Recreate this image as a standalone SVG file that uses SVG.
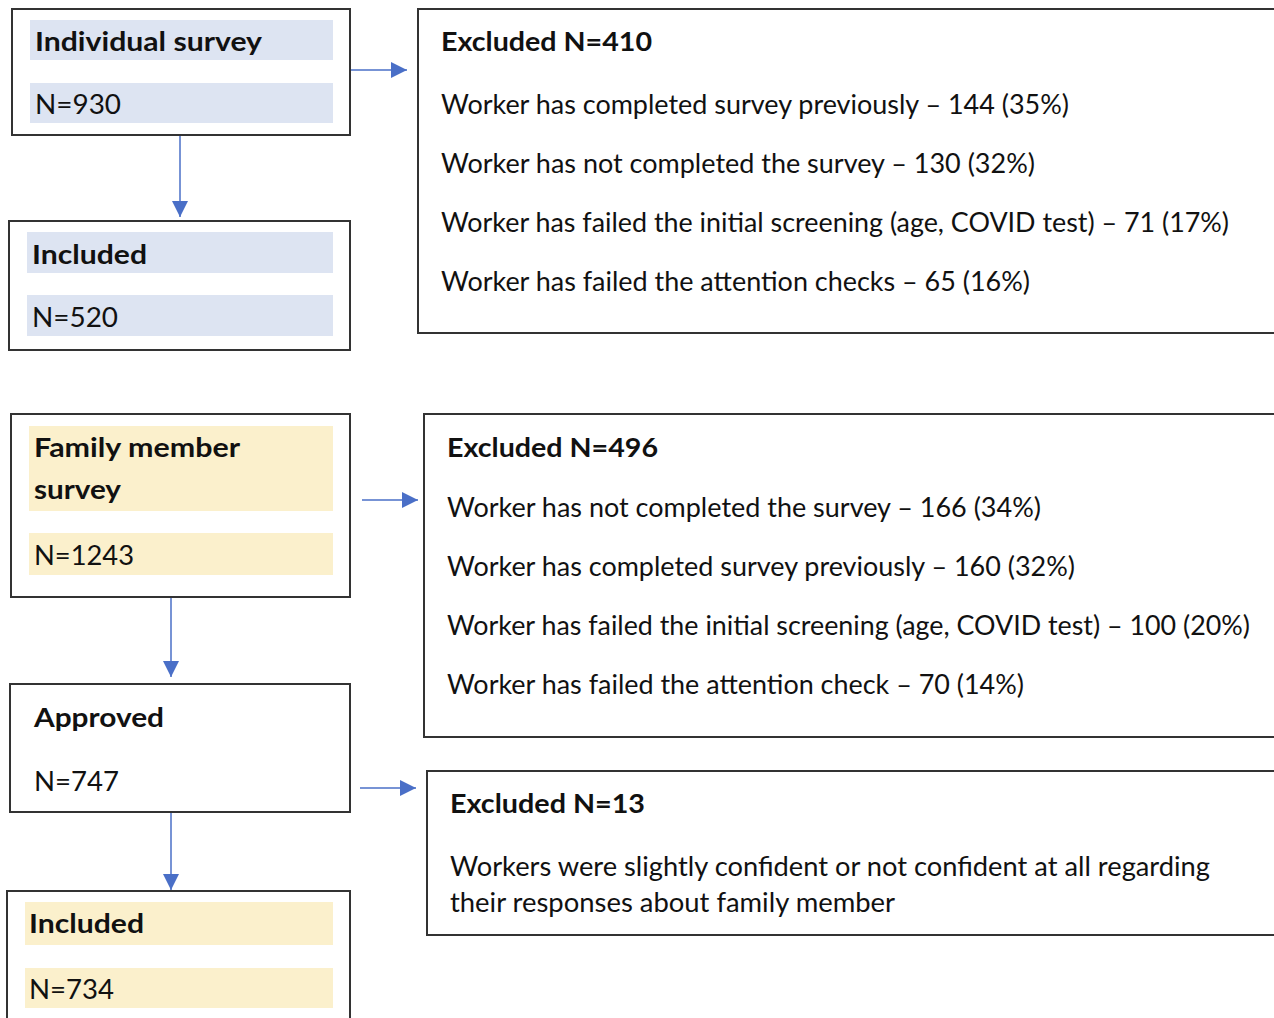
<svg xmlns="http://www.w3.org/2000/svg" width="1274" height="1018" viewBox="0 0 1274 1018">
<defs>
<marker id="ah" markerWidth="16" markerHeight="16" refX="16" refY="8" orient="auto" markerUnits="userSpaceOnUse" viewBox="0 0 16 16">
<path d="M0,0 L16,8 L0,16 z" fill="#4a6fc7"/>
</marker>
<style>
.box{fill:#fff;stroke:#333;stroke-width:2}
.bb{fill:#dde4f2}
.yb{fill:#fbf0cc}
text{font-family:Lato,"Open Sans","Liberation Sans",sans-serif;font-size:27px;fill:#111}
.b{font-weight:bold}
.con{stroke:#4a6fc7;stroke-width:1.5;fill:none;marker-end:url(#ah)}
</style>
</defs>
<rect width="1274" height="1018" fill="#fff"/>
<g id="connectors">
<line class="con" x1="180" y1="135" x2="180" y2="217"/>
<line class="con" x1="351" y1="70" x2="407" y2="70"/>
<line class="con" x1="362" y1="500" x2="418" y2="500"/>
<line class="con" x1="171" y1="598" x2="171" y2="677"/>
<line class="con" x1="360" y1="788" x2="416" y2="788"/>
<line class="con" x1="171" y1="811" x2="171" y2="890"/>
</g>
<g id="individual">
<rect class="box" x="12" y="9" width="338" height="126"/>
<rect class="bb" x="30" y="20" width="303" height="40"/>
<rect class="bb" x="30" y="83" width="303" height="40"/>
<text class="b" x="35" y="51" textLength="227" lengthAdjust="spacingAndGlyphs">Individual survey</text>
<text x="35" y="114" textLength="86" lengthAdjust="spacingAndGlyphs">N=930</text>
</g>
<g id="included1">
<rect class="box" x="9" y="221" width="341" height="129"/>
<rect class="bb" x="27" y="232" width="306" height="41"/>
<rect class="bb" x="27" y="295" width="306" height="41"/>
<text class="b" x="32" y="264" textLength="115" lengthAdjust="spacingAndGlyphs">Included</text>
<text x="32" y="327" textLength="86" lengthAdjust="spacingAndGlyphs">N=520</text>
</g>
<g id="excluded410">
<rect class="box" x="418" y="9" width="870" height="324"/>
<text class="b" x="441" y="51" textLength="211" lengthAdjust="spacingAndGlyphs">Excluded N=410</text>
<text x="441" y="114" textLength="628" lengthAdjust="spacingAndGlyphs">Worker has completed survey previously – 144 (35%)</text>
<text x="441" y="173" textLength="594" lengthAdjust="spacingAndGlyphs">Worker has not completed the survey – 130 (32%)</text>
<text x="441" y="232" textLength="788" lengthAdjust="spacingAndGlyphs">Worker has failed the initial screening (age, COVID test) – 71 (17%)</text>
<text x="441" y="291" textLength="589" lengthAdjust="spacingAndGlyphs">Worker has failed the attention checks – 65 (16%)</text>
</g>
<g id="family">
<rect class="box" x="11" y="414" width="339" height="183"/>
<rect class="yb" x="29" y="426" width="304" height="85"/>
<rect class="yb" x="29" y="533" width="304" height="42"/>
<text class="b" x="34" y="457" textLength="206" lengthAdjust="spacingAndGlyphs">Family member</text>
<text class="b" x="34" y="499" textLength="87" lengthAdjust="spacingAndGlyphs">survey</text>
<text x="34" y="565" textLength="100" lengthAdjust="spacingAndGlyphs">N=1243</text>
</g>
<g id="excluded496">
<rect class="box" x="424" y="414" width="864" height="323"/>
<text class="b" x="447" y="457" textLength="211" lengthAdjust="spacingAndGlyphs">Excluded N=496</text>
<text x="447" y="517" textLength="594" lengthAdjust="spacingAndGlyphs">Worker has not completed the survey – 166 (34%)</text>
<text x="447" y="576" textLength="628" lengthAdjust="spacingAndGlyphs">Worker has completed survey previously – 160 (32%)</text>
<text x="447" y="635" textLength="803" lengthAdjust="spacingAndGlyphs">Worker has failed the initial screening (age, COVID test) – 100 (20%)</text>
<text x="447" y="694" textLength="577" lengthAdjust="spacingAndGlyphs">Worker has failed the attention check – 70 (14%)</text>
</g>
<g id="approved">
<rect class="box" x="10" y="684" width="340" height="128"/>
<text class="b" x="34" y="727" textLength="130" lengthAdjust="spacingAndGlyphs">Approved</text>
<text x="34" y="791" textLength="85" lengthAdjust="spacingAndGlyphs">N=747</text>
</g>
<g id="excluded13">
<rect class="box" x="427" y="771" width="861" height="164"/>
<text class="b" x="450" y="813" textLength="195" lengthAdjust="spacingAndGlyphs">Excluded N=13</text>
<text x="450" y="876" textLength="760" lengthAdjust="spacingAndGlyphs">Workers were slightly confident or not confident at all regarding</text>
<text x="450" y="912" textLength="445" lengthAdjust="spacingAndGlyphs">their responses about family member</text>
</g>
<g id="included2">
<rect class="box" x="7" y="891" width="343" height="140"/>
<rect class="yb" x="25" y="902" width="308" height="43"/>
<rect class="yb" x="25" y="968" width="308" height="40"/>
<text class="b" x="29" y="933" textLength="115" lengthAdjust="spacingAndGlyphs">Included</text>
<text x="29" y="999" textLength="85" lengthAdjust="spacingAndGlyphs">N=734</text>
</g>
</svg>
